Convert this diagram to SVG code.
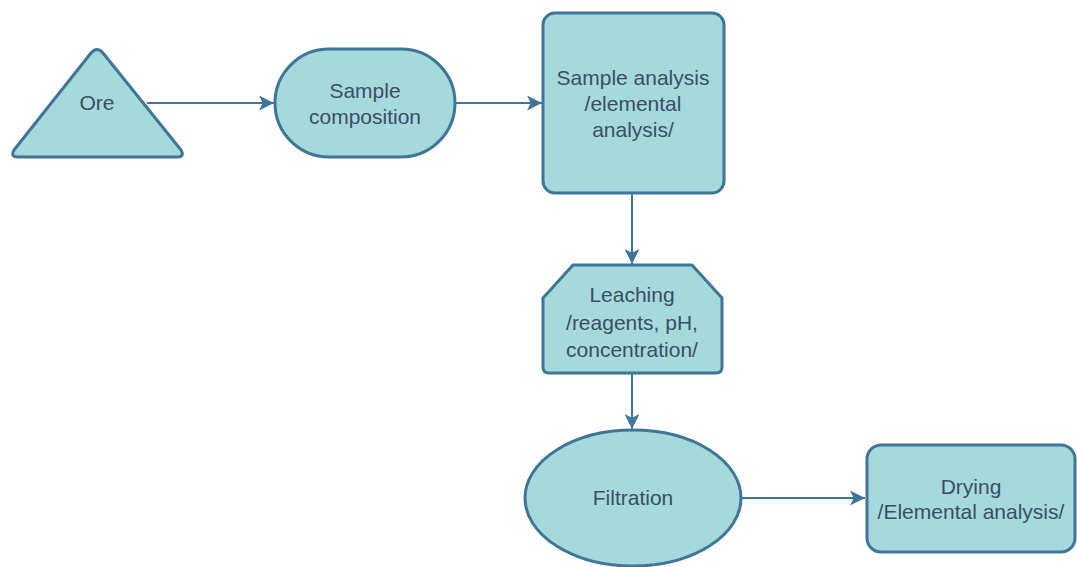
<svg xmlns="http://www.w3.org/2000/svg" width="1077" height="567" viewBox="0 0 1077 567">
<style>
.n{fill:#a6d9dc;stroke:#3f7597;stroke-width:3;stroke-linejoin:round}
.t{font-family:"Liberation Sans",Arial,sans-serif;font-size:21px;fill:#3a4f66;text-anchor:middle}
.c{stroke:#3f7597;stroke-width:2;fill:none}
</style>
<defs>
<marker id="ah" viewBox="0 0 10 10" refX="10" refY="5" markerWidth="15" markerHeight="15" markerUnits="userSpaceOnUse" orient="auto">
<path d="M0,0 L10,5 L0,10 L2.5,5 z" fill="#3f7597"/>
</marker>
</defs>
<rect width="1077" height="567" fill="#ffffff"/>
<g id="connectors">
<line class="c" x1="147" y1="103" x2="274" y2="103" marker-end="url(#ah)"/>
<line class="c" x1="455" y1="103" x2="542" y2="103" marker-end="url(#ah)"/>
<line class="c" x1="632" y1="194" x2="632" y2="264" marker-end="url(#ah)"/>
<line class="c" x1="632" y1="374" x2="632" y2="429" marker-end="url(#ah)"/>
<line class="c" x1="742" y1="498" x2="865" y2="498" marker-end="url(#ah)"/>
</g>
<g id="ore">
<path class="n" d="M91,53 Q97,46 103,53 L181,150 Q185,157 177,157 L18,157 Q10,157 14,150 Z"/>
<text class="t" x="97" y="110">Ore</text>
</g>
<g id="sample-composition">
<rect class="n" x="275" y="49" width="180" height="108" rx="54" ry="54"/>
<text class="t" x="365" y="98">Sample</text>
<text class="t" x="365" y="124">composition</text>
</g>
<g id="sample-analysis">
<rect class="n" x="543" y="13" width="181" height="180" rx="12" ry="12"/>
<text class="t" x="633" y="85">Sample analysis</text>
<text class="t" x="633" y="111">/elemental</text>
<text class="t" x="633" y="137">analysis/</text>
</g>
<g id="leaching">
<path class="n" d="M573,265 L692,265 L722,298 L722,367 Q722,373 716,373 L549,373 Q543,373 543,367 L543,298 Z"/>
<text class="t" x="632" y="302">Leaching</text>
<text class="t" x="632" y="330">/reagents, pH,</text>
<text class="t" x="632" y="357">concentration/</text>
</g>
<g id="filtration">
<ellipse class="n" cx="633" cy="498" rx="108" ry="68"/>
<text class="t" x="633" y="505">Filtration</text>
</g>
<g id="drying">
<rect class="n" x="867" y="445" width="208" height="107" rx="14" ry="14"/>
<text class="t" x="971" y="494">Drying</text>
<text class="t" x="971" y="519">/Elemental analysis/</text>
</g>
</svg>
